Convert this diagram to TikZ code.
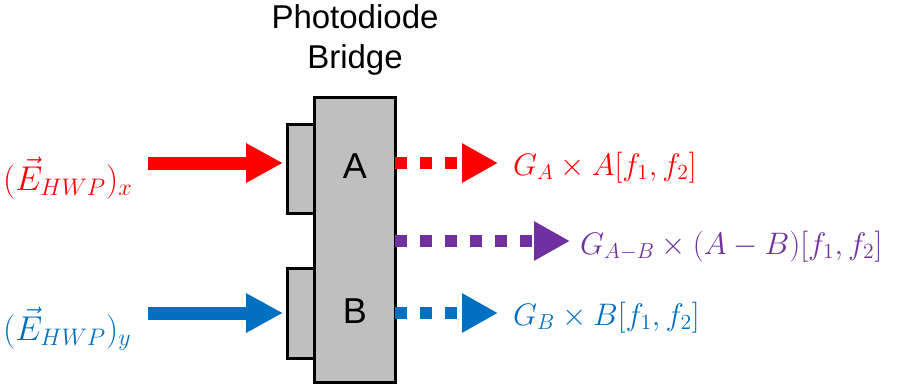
\documentclass[tikz,border=0pt]{standalone}
\usepackage{graphicx}
\usepackage{fontspec}
\setmainfont{Liberation Sans}
\usetikzlibrary{arrows.meta}
\definecolor{cred}{HTML}{FF0000}
\definecolor{cblue}{HTML}{0070C0}
\definecolor{cpurple}{HTML}{7030A0}
\definecolor{cgray}{HTML}{BFBFBF}
\newcommand{\inmath}[1]{\scalebox{1.66}{\fontsize{20.74}{25}\selectfont$#1$}}
\newcommand{\outmath}[1]{\scalebox{1.5}{\fontsize{20.74}{25}\selectfont$#1$}}
\begin{document}
\begin{tikzpicture}[x=1pt,y=-1pt,
  boxstyle/.style={draw=black,fill=cgray,line width=3pt,inner sep=0pt,outer sep=0pt},
  solidarrow/.style={line width=13pt,-{Triangle[length=37pt,width=37pt]},shorten >=4pt},
  dotarrow/.style={line width=12pt,dash pattern=on 12pt off 13pt,-{Triangle[length=36pt,width=37pt]}},
  intext/.style={anchor=base west,inner sep=0pt},
  outtext/.style={anchor=base west,inner sep=0pt}]
\useasboundingbox (0,0) rectangle (909,386);
% small boxes
\node[boxstyle,minimum width=29pt,minimum height=89pt] (sa) at (301.5,168.5) {};
\node[boxstyle,minimum width=29pt,minimum height=90pt] (sb) at (301.5,313) {};
% main box
\node[boxstyle,minimum width=81pt,minimum height=285pt] (pd) at (355,239.5) {};
\node[font=\fontsize{36}{40}\selectfont,inner sep=0pt] (la) at (355,166) {A};
\node[font=\fontsize{36}{40}\selectfont,inner sep=0pt] (lb) at (355,311) {B};
\node[align=center,font=\fontsize{33}{40}\selectfont,inner sep=0pt,anchor=north] (title) at (355,4) {Photodiode\\Bridge};
% inputs
\coordinate (ra) at (148,163);
\coordinate (bl) at (148,313);
\draw[solidarrow,cred] (ra) -- (ra -| sa.west);
\draw[solidarrow,cblue] (bl) -- (bl -| sb.west);
\node[intext,text=cred] (ex) at (3,190) {\inmath{(\vec{E}_{HWP})_x}};
\node[intext,text=cblue] (ey) at (3,340) {\inmath{(\vec{E}_{HWP})_y}};
% outputs
\coordinate (oa) at (395,163);
\coordinate (ob) at (395,313);
\coordinate (op) at (395,241);
\coordinate (ta) at (498,163);
\coordinate (tb) at (498,313);
\coordinate (tp) at (570,241);
\draw[dotarrow,cred] (oa) -- (ta);
\draw[dotarrow,cblue] (ob) -- (tb);
\draw[dotarrow,cpurple] (op) -- (tp);
\node[outtext,text=cred] (ga) at (513,175) {\outmath{G_A \times A[f_1,f_2]}};
\node[outtext,text=cblue] (gb) at (513,325) {\outmath{G_B \times B[f_1,f_2]}};
\node[outtext,text=cpurple] (gp) at (580,254) {\outmath{G_{A-B} \times (A-B)[f_1,f_2]}};
\end{tikzpicture}
\end{document}
